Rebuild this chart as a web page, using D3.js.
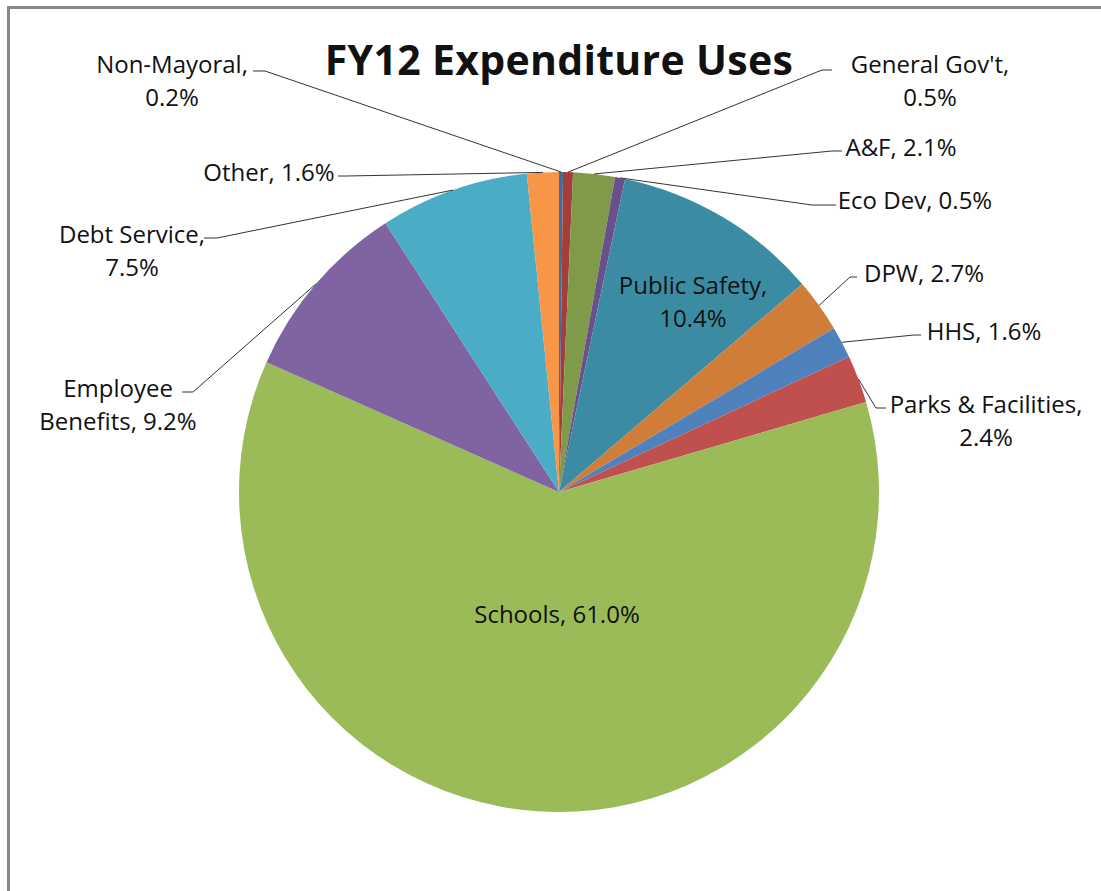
<!DOCTYPE html>
<html>
<head>
<meta charset="utf-8">
<script src="https://cdn.jsdelivr.net/npm/d3@7"></script>
<style>
  body { margin: 0; background: #fff; }
  svg { display: block; }
  text { font-family: "Open Sans", sans-serif; fill: #111; }
</style>
</head>
<body>
<div id="chart"></div>
<script>
// FY12 expenditure pie - slices clockwise from 12 o'clock
const categories = ["Non-Mayoral", "General Gov't", "A&F", "Eco Dev", "Public Safety", "DPW",
                    "HHS", "Parks & Facilities", "Schools", "Employee Benefits", "Debt Service", "Other"];
const shares = [0.2, 0.5, 2.1, 0.5, 10.4, 2.7, 1.6, 2.4, 61.0, 9.2, 7.5, 1.6];
const labelLines = [
  ["Non-Mayoral,", "0.2%"],
  ["General Gov't,", "0.5%"],
  ["A&F, 2.1%"],
  ["Eco Dev, 0.5%"],
  ["Public Safety,", "10.4%"],
  ["DPW, 2.7%"],
  ["HHS, 1.6%"],
  ["Parks & Facilities,", "2.4%"],
  ["Schools, 61.0%"],
  ["Employee", "Benefits, 9.2%"],
  ["Debt Service,", "7.5%"],
  ["Other, 1.6%"]
];
const title = "FY12 Expenditure Uses";

// slice colours (Excel 2007 palette, first six darker shades)
const colors = ["#3f6ca3", "#a33e3b", "#7f9b49", "#694f8b", "#3b8ca3", "#d07d39",
                "#4f81bd", "#c0504d", "#9bbb59", "#8064a2", "#4bacc6", "#f79646"];

// label placement: centre x, first baseline y, leader tick [x0,x1,y] (null = label inside slice)
const labelPos = [
  { x: 172, y: 73, tick: [253, 265, 71] },
  { x: 930, y: 73, tick: [832, 822, 70] },
  { x: 901, y: 156, tick: [842, 832, 151] },
  { x: 915, y: 209, tick: [836, 812, 205] },
  { x: 693, y: 294, tick: null },
  { x: 924, y: 282, tick: [857, 850, 277] },
  { x: 984, y: 340, tick: [921, 914, 335] },
  { x: 986, y: 413, tick: [886, 876, 408] },
  { x: 557, y: 623, tick: null },
  { x: 118, y: 397, tick: [182, 193, 392] },
  { x: 132, y: 243, tick: [204, 217, 238] },
  { x: 269, y: 181, tick: [338, 346, 176] }
];

const W = 1101, H = 891;
const cx = 559, cy = 492, R = 320;

const svg = d3.select('#chart').append('svg')
  .attr('width', W)
  .attr('height', H);

// chart frame (only left and top edges visible in crop)
svg.append('path')
  .attr('d', `M8.5,${H} V7.5 H${W}`)
  .attr('fill', 'none')
  .attr('stroke', '#888')
  .attr('stroke-width', 3);

svg.append('text')
  .attr('x', cx)
  .attr('y', 75)
  .attr('text-anchor', 'middle')
  .style('font-size', '41px')
  .style('font-weight', 'bold')
  .style('letter-spacing', '0.3px')
  .text(title);

const data = categories.map((c, i) => ({ name: c, value: shares[i], i: i }));

const pie = d3.pie()
  .value(d => d.value)
  .sort(null)
  .startAngle(0)
  .endAngle(2 * Math.PI);

const arcs = pie(data);
const arc = d3.arc().innerRadius(0).outerRadius(R);
const edge = d3.arc().innerRadius(R).outerRadius(R);

const g = svg.append('g').attr('transform', `translate(${cx},${cy})`);

g.selectAll('.slice')
  .data(arcs)
  .enter()
  .append('path')
  .attr('class', 'slice')
  .attr('d', arc)
  .attr('fill', d => colors[d.data.i]);

// leader lines
arcs.forEach(a => {
  const p = labelPos[a.data.i];
  if (!p.tick) return;
  const [ex, ey] = edge.centroid(a);
  const [x0, x1, y] = p.tick;
  svg.append('path')
    .attr('d', `M${x0},${y} H${x1} L${cx + ex},${cy + ey}`)
    .attr('fill', 'none')
    .attr('stroke', '#333')
    .attr('stroke-width', 1);
});

// labels
data.forEach(d => {
  const p = labelPos[d.i];
  const t = svg.append('text')
    .attr('text-anchor', 'middle')
    .style('font-size', '24px');
  labelLines[d.i].forEach((line, k) => {
    t.append('tspan')
      .attr('x', p.x)
      .attr('y', p.y + k * 33)
      .text(line);
  });
});
</script>
</body>
</html>
